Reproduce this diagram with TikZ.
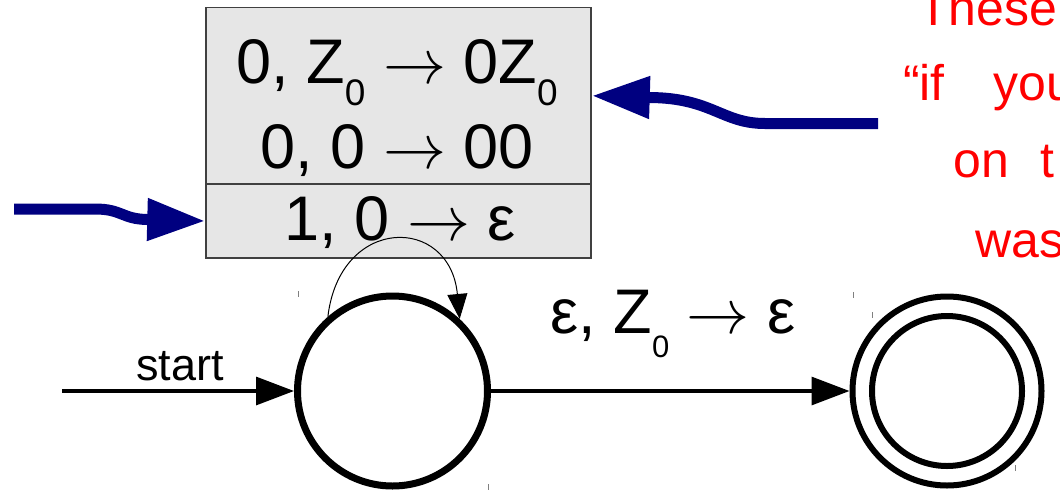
\documentclass[tikz,border=0pt]{standalone}
\usepackage{fix-cm}
\usepackage{fontspec}
\setmainfont{Liberation Sans}
\usetikzlibrary{arrows.meta}
\definecolor{boxgray}{HTML}{E6E6E6}
\definecolor{boxline}{HTML}{404040}
\definecolor{navyb}{HTML}{000080}
\newcommand\zsub[1]{\raisebox{-22pt}{\fontsize{37}{37}\selectfont #1}}
\newcommand\zsubsmall[1]{\raisebox{-24pt}{\fontsize{31}{31}\selectfont #1}}
\begin{document}
\begin{tikzpicture}[x=1pt,y=-1pt,
  big/.style={font=\fontsize{63}{63}\selectfont, inner sep=0pt, anchor=base},
  panel/.style={draw=boxline, fill=boxgray, line width=1.5pt, minimum width=385pt, inner sep=0pt},
  state/.style={circle, draw=black, line width=7pt, minimum size=190pt, inner sep=0pt},
  trans/.style={line width=3.2pt, -{Triangle[length=38pt,width=28pt]}},
  selfloop/.style={line width=1pt, -{Triangle[length=25pt,width=20pt]}},
  bluearrow/.style={draw=navyb, line width=11pt, -{Triangle[length=58pt,width=40pt,fill=navyb]}},
  redtext/.style={text=red, font=\fontsize{50}{50}\selectfont, anchor=base west, inner sep=0pt},
  tickmark/.style={draw=gray, line width=1pt}
]
\useasboundingbox (0,0) rectangle (1060,491);
\clip (0,0) rectangle (1060,491);

% stack-rule panel
\node[panel, minimum height=176.5pt] (topbox) at (398.5,95.75) {};
\node[panel, minimum height=74pt] (lowbox) at (398.5,221) {};
\node[big] (r1) at (397,83) {0, Z\zsub{0} $\rightarrow$ 0Z\zsub{0}};
\node[big] (r2) at (397,168) {0, 0 $\rightarrow$ 00};
\node[big] (r3) at (400,240) {1, 0 $\rightarrow$ ε};

% states
\node[state] (q0) at (392.5,391) {};
\node[state, line width=6pt, minimum size=189pt] (q1) at (947,391) {};
\draw[line width=6pt] (q1.center) circle (75pt);

% start arrow
\coordinate (s) at (62,391);
\draw[trans] (s) -- (q0);
\node[font=\fontsize{45}{45}\selectfont, anchor=base, inner sep=0pt] (startlbl) at (180,380) {start};

% transition
\draw[trans] (q0) -- (q1);
\node[big] (tlbl) at (673,333) {ε, Z\zsubsmall{0} $\rightarrow$ ε};

% self loop
\draw[selfloop] (q0.131) .. controls (340,215) and (450,215) .. (q0.47);

% blue arrows
\coordinate (la) at (14,209);
\draw[bluearrow] (la) -- (95,209) .. controls (122,209) and (122,219) .. (147,219.5) -- (lowbox.west);
\coordinate (ra) at (878,123.5);
\draw[bluearrow] (ra) -- (765,123.5) .. controls (722,123.5) and (712,98) .. (650,97.5) -- (topbox.east);

% red handwritten note (clipped at right edge)
\node[redtext] (n1) at (918,25) {These};
\node[redtext] (n2) at (903,100) {“if};
\node[redtext] (n3) at (993,100) {you};
\node[redtext] (n4) at (953,177) {on};
\node[redtext] (n5) at (1040,177) {t};
\node[redtext] (n6) at (975,257) {was};

% small handle ticks
\draw[tickmark] (298,291) -- (298,297);
\draw[tickmark] (488,484) -- (488,490);
\draw[tickmark] (853,292) -- (853,298);
\draw[tickmark] (872,312) -- (872,318);
\draw[tickmark] (1015,465) -- (1015,471);
\end{tikzpicture}
\end{document}
